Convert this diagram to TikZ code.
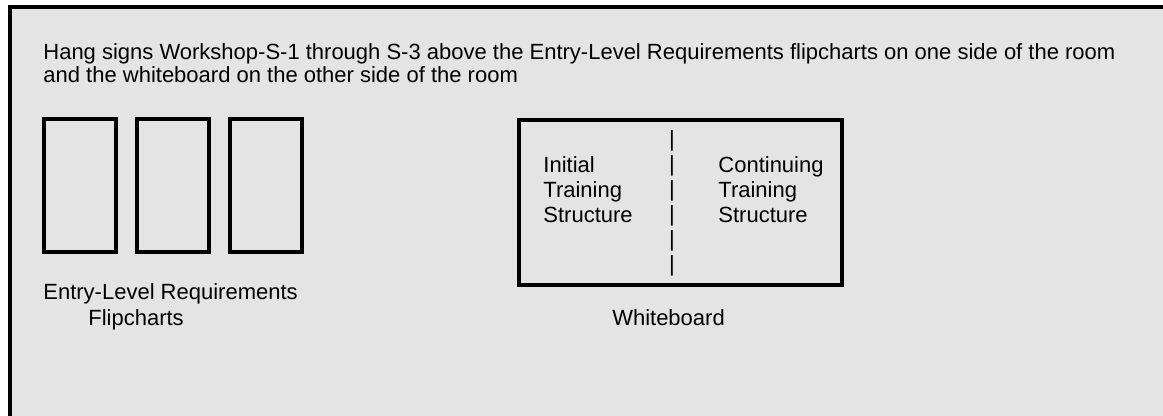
\documentclass[tikz,border=0pt]{standalone}
\usepackage{fontspec}
\setmainfont{Liberation Sans}
\usetikzlibrary{positioning}
\definecolor{roomgray}{HTML}{E4E4E4}
\tikzset{
  wall/.style={line width=2pt, draw=black},
  chart/.style={draw, line width=2pt, outer sep=0pt, inner sep=0pt, minimum width=36pt, minimum height=66.5pt},
  board/.style={draw, line width=2pt, outer sep=0pt, inner sep=0pt, minimum width=161.5pt, minimum height=82.5pt},
  lbl/.style={font=\fontsize{11}{12.5}\selectfont, inner sep=0pt, align=left},
}

\begin{document}
\begin{tikzpicture}[x=0.5pt, y=-0.5pt, node distance=10.5pt]
  \useasboundingbox (0,0) rectangle (1163,416);
  \fill[white] (0,0) rectangle (1163,416);
  \fill[roomgray] (10,7) rectangle (1163,416);
  \draw[wall] (10,416) -- (10,7) -- (1163,7);
  % instructions (base = last line)
  \node[lbl, font=\fontsize{11}{11.5}\selectfont, anchor=base west] (note) at (43,83)
    {Hang signs Workshop-S-1 through S-3 above the Entry-Level Requirements flipcharts on one side of the room\\and the whiteboard on the other side of the room};
  % flipcharts
  \node[chart] (fc1) at (80,185.5) {};
  \node[chart, right=of fc1] (fc2) {};
  \node[chart, right=of fc2] (fc3) {};
  \node[lbl, font=\fontsize{11}{13}\selectfont, anchor=base west] (fclbl) at (43,326)
    {Entry-Level Requirements\\\hspace*{22.5pt}Flipcharts};
  % whiteboard
  \node[board] (wb) at (680.5,202.5) {};
  \node[lbl, anchor=base west] (init) at (543,223) {Initial\\Training\\Structure};
  \node[lbl, anchor=base west] (cont) at (718,223) {Continuing\\Training\\Structure};
  \node[lbl, align=center, anchor=base] (div) at (672,272) {|\\|\\|\\|\\|\\|};
  \node[lbl, anchor=base] (wblbl) at (668.5,326) {Whiteboard};
\end{tikzpicture}
\end{document}
